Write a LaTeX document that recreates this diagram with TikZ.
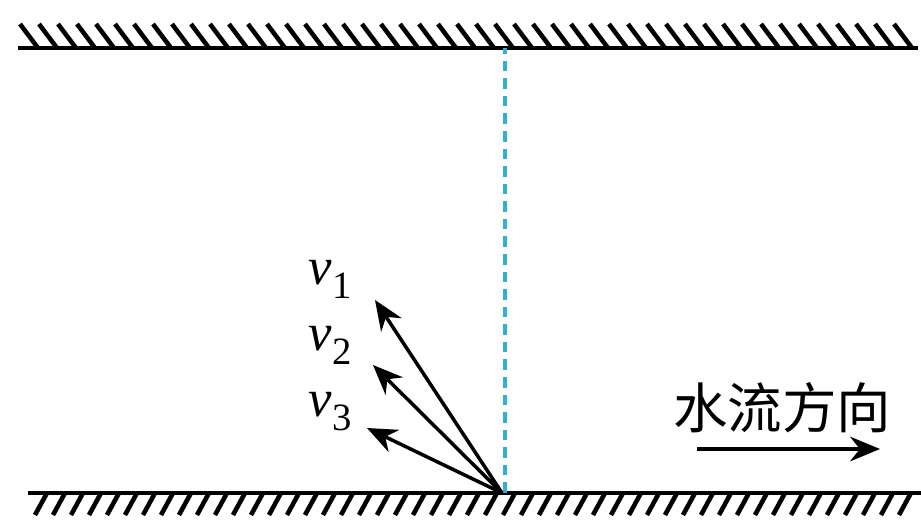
\documentclass[tikz,border=0pt]{standalone}
\usepackage{fontspec}
\setmainfont{Liberation Serif}
\newfontfamily\cjk{Noto Sans CJK SC}
\usetikzlibrary{arrows.meta}
\usetikzlibrary{positioning}
\definecolor{riverblue}{RGB}{50,175,215}

\begin{document}
\begin{tikzpicture}[>=Stealth,
    bank/.style={line width=1.2pt},
    hatch/.style={line width=1.3pt},
    vel/.style={line width=1pt, -{Stealth[length=8.5pt, width=7pt]}},
    vlabel/.style={font=\fontsize{15}{18}\selectfont, inner sep=0pt}]
  \useasboundingbox (0,0) rectangle (9.21,5.19);

  % upper bank
  \draw[bank] (0.18,4.71) -- (9.18,4.71);
  \foreach \x in {0,...,46} {
    \draw[hatch] ({0.20+0.19*\x},4.95) -- ({0.38+0.19*\x},4.71);
  }

  % lower bank
  \draw[bank] (0.28,0.26) -- (9.21,0.26);
  \foreach \x in {0,...,48} {
    \draw[hatch] ({0.47+0.18*\x},0.26) -- ({0.35+0.18*\x},0.04);
  }

  % crossing line
  \coordinate (O) at (5.02,0.26);
  \coordinate (top) at (5.05,4.71);
  \coordinate (bot) at (5.05,0.26);
  \draw[riverblue, line width=1pt, dashed, dash pattern=on 3pt off 2pt] (bot) -- (top);

  % velocities
  \coordinate (t1) at (3.75,2.19);
  \coordinate (t2) at (3.73,1.54);
  \coordinate (t3) at (3.67,0.91);
  \draw[vel] (O) -- (t1);
  \draw[vel] (O) -- (t2);
  \draw[vel] (O) -- (t3);

  \node[vlabel] (v1) at (3.30,2.40) {\textit{v}\raisebox{-4pt}{\fontsize{11}{13}\selectfont 1}};
  \node[vlabel] (v2) at (3.30,1.74) {\textit{v}\raisebox{-4pt}{\fontsize{11}{13}\selectfont 2}};
  \node[vlabel] (v3) at (3.30,1.07) {\textit{v}\raisebox{-4pt}{\fontsize{11}{13}\selectfont 3}};

  % flow direction
  \node[font=\cjk\fontsize{15.5}{18}\selectfont, inner sep=0pt] (flow) at (7.82,1.11) {水流方向};
  \coordinate (fa) at (6.97,0.70);
  \coordinate (fb) at (8.80,0.70);
  \draw[vel] (fa) -- (fb);
\end{tikzpicture}
\end{document}
